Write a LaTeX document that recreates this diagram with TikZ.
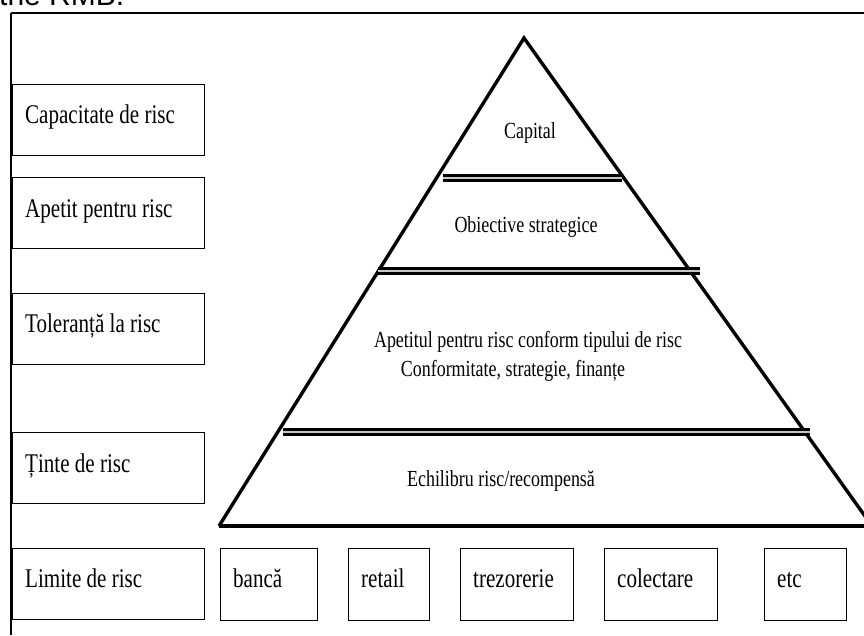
\documentclass[tikz,border=0pt]{standalone}
\usepackage{fontspec}
\newfontfamily\cond[FakeStretch=0.78]{Liberation Serif}
\newfontfamily\arialf{Liberation Sans}
\begin{document}
\begin{tikzpicture}[x=1pt,y=-1pt,
  lbox/.style={draw, line width=1.3pt, minimum width=192pt, minimum height=71pt, inner sep=0pt, anchor=north west},
  bbox/.style={draw, line width=1.3pt, minimum height=72pt, inner sep=0pt, anchor=north west},
  btxt/.style={font=\cond\fontsize{27}{30}\selectfont, inner sep=0pt, anchor=base west},
  ptxt/.style={font=\cond\fontsize{23}{26}\selectfont, inner sep=0pt, anchor=base},
  divider/.style={line width=2.6pt, double=gray!45, double distance=2.6pt},
  pyr/.style={line width=3.4pt, line join=miter}
]
\useasboundingbox (0,0) rectangle (864,635);
\clip (0,0) rectangle (864,635);
% cut-off caption text at top
\node[font=\arialf\fontsize{30}{32}\selectfont, inner sep=0pt, anchor=base west] (cap0) at (-1,5) {the RMB.};
% frame
\coordinate (f0) at (11,13);
\coordinate (f1) at (864,13);
\coordinate (f2) at (11,635);
\draw[line width=2pt] (f1) -- (f0);
\draw[line width=1.2pt] (f0) -- (f2);
% pyramid
\coordinate (apex) at (524,38);
\coordinate (bl) at (219,526);
\coordinate (br) at (872,526);
\draw[pyr] (bl) -- (apex) -- (br);
\draw[line width=4.5pt] (bl) -- (br);
% dividers
\coordinate (d1a) at (443,178); \coordinate (d1b) at (622,178);
\coordinate (d2a) at (378,271); \coordinate (d2b) at (700,271);
\coordinate (d3a) at (283,432); \coordinate (d3b) at (810,432);
\draw[divider] (d1a) -- (d1b);
\draw[divider] (d2a) -- (d2b);
\draw[divider] (d3a) -- (d3b);
% pyramid texts
\node[ptxt] (t1) at (530,138) {Capital};
\node[ptxt] (t2) at (526,232) {Obiective strategice};
\node[ptxt] (t3) at (528,347) {Apetitul pentru risc conform tipului de risc};
\node[ptxt] (t4) at (513,376) {Conformitate, strategie, finanțe};
\node[ptxt] (t5) at (501,486) {Echilibru risc/recompensă};
% left boxes
\node[lbox] (b1) at (12,84) {};
\node[lbox] (b2) at (12,177) {};
\node[lbox] (b3) at (12,293) {};
\node[lbox] (b4) at (12,432) {};
\node[lbox] (b5) at (12,548) {};
\node[btxt] at ([shift={(13pt,-39pt)}]b1.north west) {Capacitate de risc};
\node[btxt] at ([shift={(13pt,-40pt)}]b2.north west) {Apetit pentru risc};
\node[btxt] at ([shift={(13pt,-39pt)}]b3.north west) {Toleranță la risc};
\node[btxt] at ([shift={(13pt,-40pt)}]b4.north west) {Ținte de risc};
\node[btxt] at ([shift={(13pt,-39pt)}]b5.north west) {Limite de risc};
% bottom boxes
\node[bbox, minimum width=97pt] (c1) at (220,548) {};
\node[bbox, minimum width=81pt] (c2) at (348,548) {};
\node[bbox, minimum width=113pt] (c3) at (460,548) {};
\node[bbox, minimum width=113pt] (c4) at (604,548) {};
\node[bbox, minimum width=82pt] (c5) at (764,548) {};
\node[btxt] at ([shift={(13pt,-39pt)}]c1.north west) {bancă};
\node[btxt] at ([shift={(13pt,-39pt)}]c2.north west) {retail};
\node[btxt] at ([shift={(13pt,-39pt)}]c3.north west) {trezorerie};
\node[btxt] at ([shift={(13pt,-39pt)}]c4.north west) {colectare};
\node[btxt] at ([shift={(13pt,-39pt)}]c5.north west) {etc};
\end{tikzpicture}
\end{document}
